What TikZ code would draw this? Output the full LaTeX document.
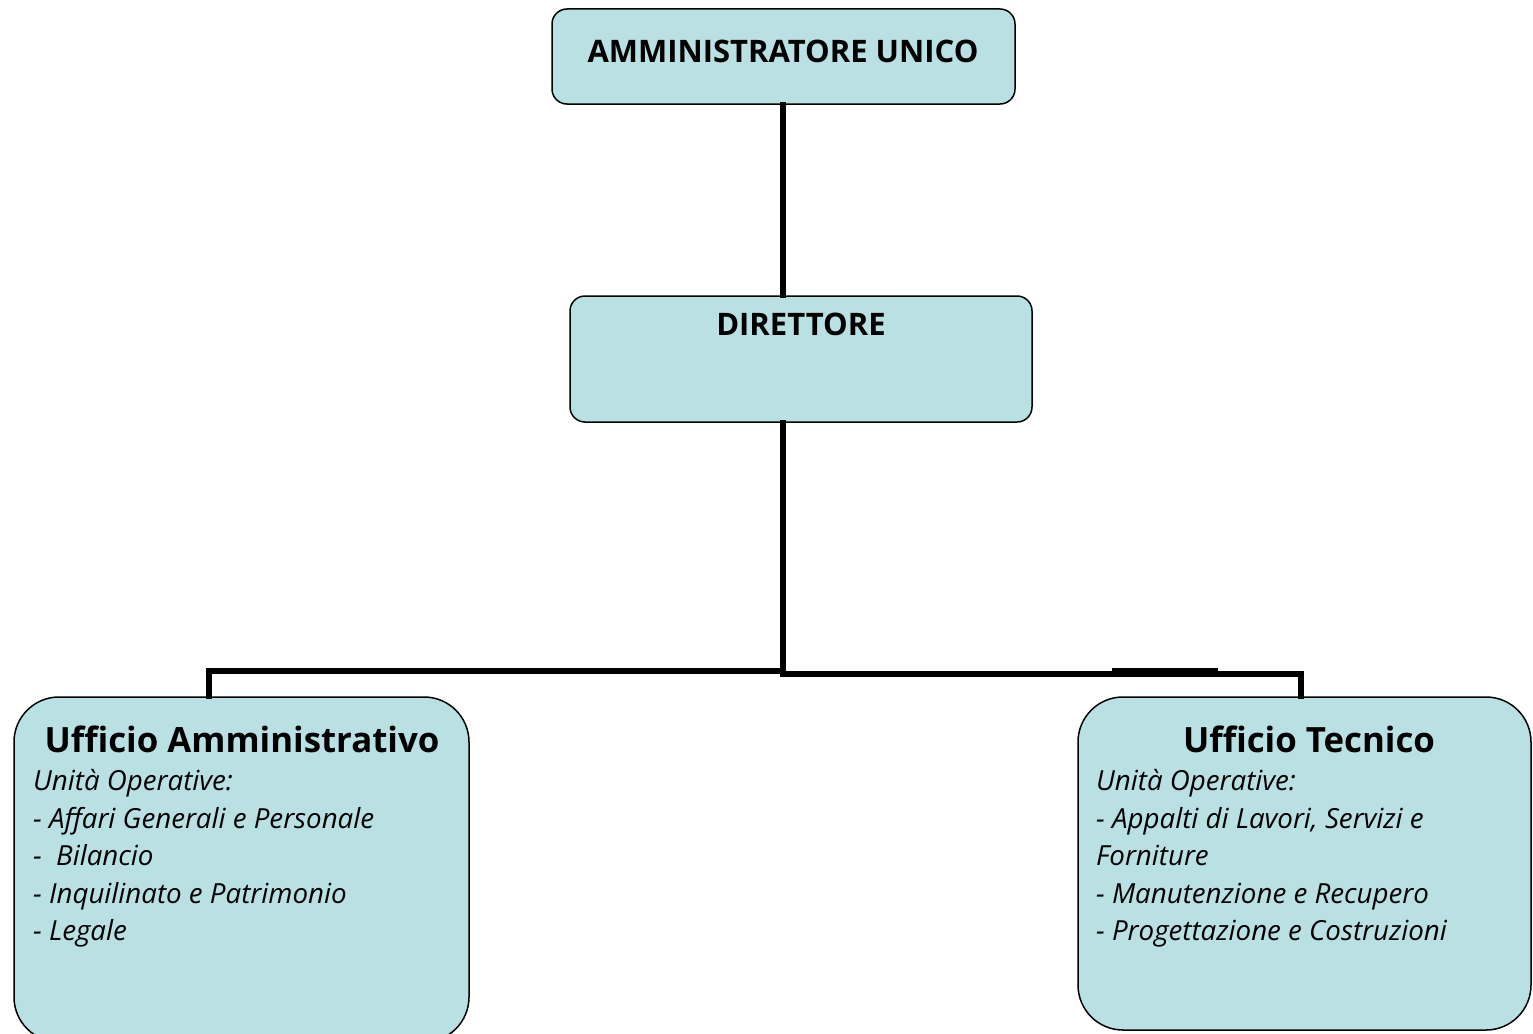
\documentclass[tikz,border=0pt]{standalone}
\usepackage{fontspec}
\setmainfont{Open Sans}
\definecolor{boxfill}{HTML}{B9E0E3}
\tikzset{
  orgbox/.style={draw=black, line width=1.5pt, fill=boxfill, rounded corners=15pt, inner sep=0pt},
  bigbox/.style={orgbox, rounded corners=45pt},
  conn/.style={line width=6pt, line cap=rect},
  ttl/.style={font=\fontsize{31}{36}\selectfont\bfseries, inner sep=0pt},
  head/.style={font=\fontsize{34.8}{40}\selectfont\bfseries, inner sep=0pt, anchor=base},
  item/.style={font=\fontsize{27.7}{32}\selectfont\itshape, inner sep=0pt, anchor=base west}
}
\begin{document}
\begin{tikzpicture}[x=1pt,y=-1pt]
\useasboundingbox (0,0) rectangle (1533,1033);
\clip (0,0) rectangle (1533,1033);
% boxes
\node[orgbox, minimum width=463pt, minimum height=95pt] (amm) at (783.5,56.5) {};
\node[orgbox, minimum width=462pt, minimum height=126pt] (dir) at (801,359) {};
\node[bigbox, minimum width=455pt, minimum height=345pt] (uam) at (241.5,869.5) {};
\node[bigbox, minimum width=453pt, minimum height=333pt] (ute) at (1304.5,863.5) {};
% connectors
\coordinate (j) at (783,672);
\coordinate (jl) at (209,671);
\coordinate (jr) at (1301,674);
\draw[conn] (amm.south -| j) -- (dir.north -| j);
\draw[conn] (dir.south -| j) -- (j);
\draw[conn] (j) -- (783,671) -- (jl) -- (uam.north -| jl);
\draw[conn] (j) -- (783,674) -- (jr) -- (ute.north -| jr);
\draw[line width=3.5pt] (1112,669.5) -- (1218,669.5);
% texts
\node[ttl] (tamm) at (783,51) {AMMINISTRATORE UNICO};
\node[ttl] (tdir) at (801,324) {DIRETTORE};
\node[head] (huam) at (242,752) {Ufficio Amministrativo};
\node[item] at (33,790) {Unità Operative:};
\node[item] at (33,828) {- Affari Generali e Personale};
\node[item] at (33,865) {-\ \ Bilancio};
\node[item] at (33,903) {- Inquilinato e Patrimonio};
\node[item] at (33,940) {- Legale};
\node[head] (hute) at (1309,752) {Ufficio Tecnico};
\node[item] at (1096,790) {Unità Operative:};
\node[item] at (1096,828) {- Appalti di Lavori, Servizi e};
\node[item] at (1096,865) {Forniture};
\node[item] at (1096,903) {- Manutenzione e Recupero};
\node[item] at (1096,940) {- Progettazione e Costruzioni};
\end{tikzpicture}
\end{document}
